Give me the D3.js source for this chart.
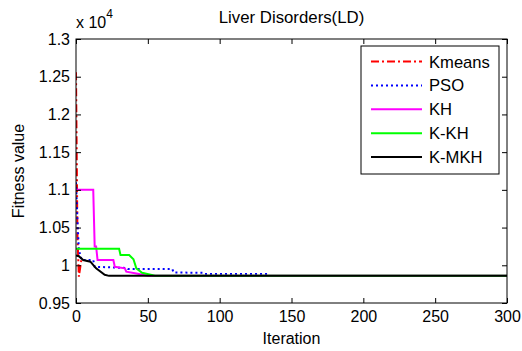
<!DOCTYPE html>
<html>
<head>
<meta charset="utf-8">
<script src="https://d3js.org/d3.v7.min.js"></script>
<style>
  body { margin: 0; background: #fff; }
  svg text { font-family: "Liberation Sans", Arial, Helvetica, sans-serif; fill: #000; }
</style>
</head>
<body>
<svg id="vis"></svg>
<script>
  var width = 522, height = 351;

  // data (fitness values, raw units)
  var kmeansIter = [0, 1, 2, 3, 4];
  var kmeansVal  = [12560, 10400, 9850, 9980, 10100];

  var psoIter = [0, 1, 2, 4, 12, 13, 35, 36, 67, 68, 88, 89, 135];
  var psoVal  = [11100, 10600, 10200, 10070, 10070, 9980, 9965, 9950, 9950, 9905, 9900, 9885, 9885];

  var khIter = [0, 12, 13, 14, 15, 26, 27, 34, 35, 42, 50, 300];
  var khVal  = [11000, 11000, 10250, 10250, 10070, 10070, 9980, 9960, 9915, 9890, 9860, 9860];

  var kkhIter = [0, 30, 31, 37, 40, 42, 46, 55, 300];
  var kkhVal  = [10220, 10220, 10135, 10135, 10080, 9960, 9900, 9860, 9860];

  var kmkhIter = [0, 2, 5, 10, 14, 20, 23, 300];
  var kmkhVal  = [10130, 10120, 10070, 10048, 9960, 9875, 9860, 9860];

  var seriesNames  = ['Kmeans', 'PSO', 'KH', 'K-KH', 'K-MKH'];
  var seriesColors = ['#ff0000', '#0000ff', '#ff00ff', '#00ff00', '#000000'];
  var seriesDash   = ['8,3,2,3', '2,3', null, null, null];

  var xTicks = [0, 50, 100, 150, 200, 250, 300];
  var yTicks = [0.95, 1, 1.05, 1.1, 1.15, 1.2, 1.25, 1.3];

  var allSeries = [
    {iter: kmeansIter, val: kmeansVal},
    {iter: psoIter, val: psoVal},
    {iter: khIter, val: khVal},
    {iter: kkhIter, val: kkhVal},
    {iter: kmkhIter, val: kmkhVal}
  ];

  var m = {left: 76, right: 507, top: 39, bottom: 303};
  var fs = '16px';

  var svg = d3.select('#vis').attr('width', width).attr('height', height);

  var x = d3.scaleLinear().domain([0, 300]).range([m.left, m.right]);
  var y = d3.scaleLinear().domain([0.95, 1.3]).range([m.bottom, m.top]);

  // clip for lines
  svg.append('clipPath').attr('id', 'clip')
    .append('rect')
      .attr('x', m.left).attr('y', m.top)
      .attr('width', m.right - m.left).attr('height', m.bottom - m.top);

  var line = d3.line()
      .x(function(d) { return x(d[0]); })
      .y(function(d) { return y(d[1] / 10000); });

  allSeries.forEach(function(s, i) {
    var pts = s.iter.map(function(it, j) { return [it, s.val[j]]; });
    svg.append('path')
      .attr('clip-path', 'url(#clip)')
      .attr('d', line(pts))
      .attr('fill', 'none')
      .attr('stroke', seriesColors[i])
      .attr('stroke-width', 2)
      .attr('stroke-dasharray', seriesDash[i]);
  });

  // axes: bottom and left with labels, top/right ticks only
  var tl = 5;
  svg.append('g')
      .attr('transform', 'translate(0,' + m.bottom + ')')
      .call(d3.axisBottom(x).tickValues(xTicks).tickSizeInner(-tl).tickSizeOuter(0).tickPadding(8))
      .call(function(g) { g.select('.domain').remove(); })
      .selectAll('text').style('font-size', fs);

  svg.append('g')
      .attr('transform', 'translate(' + m.left + ',0)')
      .call(d3.axisLeft(y).tickValues(yTicks).tickFormat(d3.format('~g')).tickSizeInner(-tl).tickSizeOuter(0).tickPadding(6))
      .call(function(g) { g.select('.domain').remove(); })
      .selectAll('text').style('font-size', fs);

  svg.append('g')
      .attr('transform', 'translate(0,' + m.top + ')')
      .call(d3.axisTop(x).tickValues(xTicks).tickSizeInner(-tl).tickSizeOuter(0).tickFormat(''))
      .call(function(g) { g.select('.domain').remove(); });

  svg.append('g')
      .attr('transform', 'translate(' + m.right + ',0)')
      .call(d3.axisRight(y).tickValues(yTicks).tickSizeInner(-tl).tickSizeOuter(0).tickFormat(''))
      .call(function(g) { g.select('.domain').remove(); });

  svg.selectAll('.tick line').attr('stroke', '#000');

  // box
  svg.append('rect')
    .attr('x', m.left).attr('y', m.top)
    .attr('width', m.right - m.left).attr('height', m.bottom - m.top)
    .attr('fill', 'none').attr('stroke', '#000').attr('stroke-width', 1);

  // exponent label
  var ex = svg.append('text').attr('x', 76).attr('y', 28).style('font-size', fs);
  ex.append('tspan').text('x 10');
  ex.append('tspan').attr('dy', -10).style('font-size', '12px').text('4');

  // title
  svg.append('text')
    .attr('x', (m.left + m.right) / 2).attr('y', 23)
    .attr('text-anchor', 'middle').style('font-size', '16.8px')
    .text('Liver Disorders(LD)');

  // axis labels
  svg.append('text')
    .attr('x', (m.left + m.right) / 2).attr('y', 344)
    .attr('text-anchor', 'middle').style('font-size', fs)
    .text('Iteration');

  svg.append('text')
    .attr('transform', 'translate(24,' + ((m.top + m.bottom) / 2) + ') rotate(-90)')
    .attr('text-anchor', 'middle').style('font-size', fs)
    .text('Fitness value');

  // legend
  var lg = svg.append('g');
  lg.append('rect')
    .attr('x', 361).attr('y', 46).attr('width', 138).attr('height', 128)
    .attr('fill', '#fff').attr('stroke', '#000').attr('stroke-width', 1);

  seriesNames.forEach(function(name, i) {
    var yy = 61.5 + i * 23.9;
    lg.append('line')
      .attr('x1', 371).attr('x2', 422).attr('y1', yy).attr('y2', yy)
      .attr('stroke', seriesColors[i]).attr('stroke-width', 2)
      .attr('stroke-dasharray', seriesDash[i]);
    lg.append('text')
      .attr('x', 429).attr('y', yy + 6)
      .style('font-size', '16.6px')
      .text(name);
  });
</script>
</body>
</html>
